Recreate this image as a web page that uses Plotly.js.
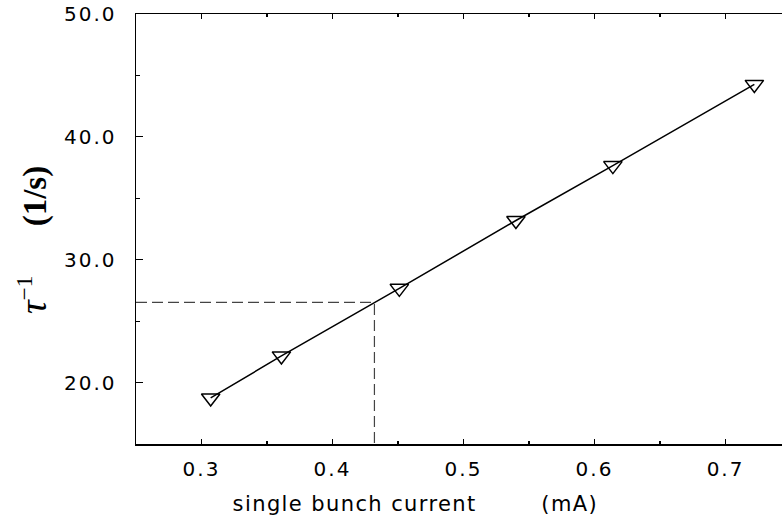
<!DOCTYPE html>
<html>
<head>
<meta charset="utf-8">
<script src="https://cdn.plot.ly/plotly-3.0.1.min.js"></script>
<style>
  html, body { margin: 0; padding: 0; background: #fff; }
  #chart { width: 782px; height: 519px; }
  g.xtick text, g.ytick text { letter-spacing: 2px; }
  g.annotation[data-index="0"] text { letter-spacing: 1.4px; }
</style>
</head>
<body>
<div id="chart"></div>
<script>
// single bunch current (mA)
const current = [0.307, 0.361, 0.451, 0.540, 0.614, 0.722];
// growth rate tau^-1 (1/s)
const rate = [18.75, 22.17, 27.67, 33.19, 37.66, 44.27];
// reference (dashed) read-off point
const refCurrent = 0.432;
const refRate = 26.52;
const xRange = [0.25, 0.7431];
const yRange = [15, 50];

const main = {
  x: current, y: rate,
  type: 'scatter', mode: 'lines+markers',
  line: { color: '#000', width: 1.5 },
  marker: { symbol: 'triangle-down-open', size: 16, color: '#000', line: { color: '#000', width: 1.5 } },
  hoverinfo: 'skip', showlegend: false
};

const guide = {
  x: [xRange[0], refCurrent, refCurrent],
  y: [refRate, refRate, yRange[0]],
  type: 'scatter', mode: 'lines',
  line: { color: '#444', width: 1.2, dash: '11px,5px' },
  hoverinfo: 'skip', showlegend: false
};

const layout = {
  width: 782, height: 519,
  margin: { l: 136, r: 0, t: 14, b: 75 },
  paper_bgcolor: '#fff', plot_bgcolor: '#fff',
  showlegend: false,
  font: { family: 'DejaVu Sans', color: '#000' },
  xaxis: {
    range: xRange, dtick: 0.1, tick0: 0, tickformat: '.1f',
    ticks: 'inside', ticklen: 5, tickwidth: 1.2, tickcolor: '#000',
    minor: { dtick: 0.05, tick0: 0, ticks: 'inside', ticklen: 3, tickwidth: 1.2, tickcolor: '#000' },
    showline: true, linecolor: '#000', linewidth: 1.5, mirror: 'ticks',
    showgrid: false, zeroline: false,
    tickfont: { family: 'DejaVu Sans', size: 20, color: '#000' },
    ticklabelstandoff: 6
  },
  yaxis: {
    range: yRange, dtick: 10, tick0: 0, tickformat: '.1f',
    ticks: 'inside', ticklen: 7, tickwidth: 1.2, tickcolor: '#000',
    minor: { dtick: 5, tick0: 0, ticks: 'inside', ticklen: 4, tickwidth: 1.2, tickcolor: '#000' },
    showline: true, linecolor: '#000', linewidth: 1.5, mirror: false,
    showgrid: false, zeroline: false,
    tickfont: { family: 'DejaVu Sans', size: 20, color: '#000' },
    ticklabelstandoff: 14
  },
  annotations: [
    {
      text: 'single bunch current\u00a0\u00a0\u00a0\u00a0\u00a0\u00a0\u00a0\u00a0(mA)',
      xref: 'paper', yref: 'paper', x: 0, y: 0,
      xshift: 279, yshift: -60,
      xanchor: 'center', yanchor: 'middle', showarrow: false,
      font: { family: 'DejaVu Sans', size: 21, color: '#000' }
    },
    {
      text: '<span style="font-size:38px"><i>τ</i></span><sup>−1</sup>\u00a0\u00a0\u00a0\u00a0\u00a0\u00a0<b>(1/s)</b>',
      xref: 'paper', yref: 'paper', x: 0, y: 0,
      xshift: -104, yshift: 204,
      xanchor: 'center', yanchor: 'middle', showarrow: false, textangle: -90,
      font: { family: 'Liberation Serif', size: 33, color: '#000' }
    }
  ]
};

Plotly.newPlot('chart', [guide, main], layout, { staticPlot: true, displayModeBar: false });
</script>
</body>
</html>
